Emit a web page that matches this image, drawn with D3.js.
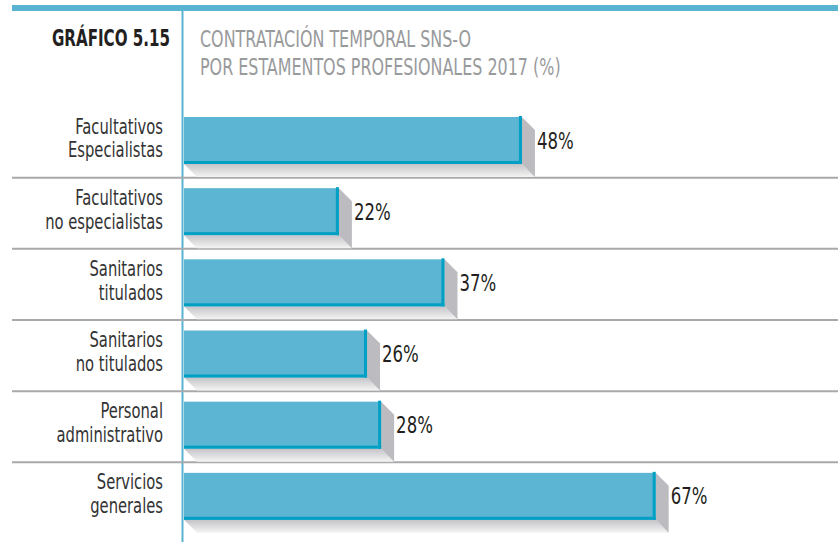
<!DOCTYPE html>
<html>
<head>
<meta charset="utf-8">
<script src="https://cdn.jsdelivr.net/npm/d3@7"></script>
<style>
  body { margin: 0; background: #fff; }
  text { font-family: "DejaVu Sans Condensed", "DejaVu Sans", sans-serif; font-stretch: condensed; }
</style>
</head>
<body>
<svg width="838" height="542"></svg>
<script>
var categories = [
    ['Facultativos', 'Especialistas'],
    ['Facultativos', 'no especialistas'],
    ['Sanitarios', 'titulados'],
    ['Sanitarios', 'no titulados'],
    ['Personal', 'administrativo'],
    ['Servicios', 'generales']
];
var values = [48, 22, 37, 26, 28, 67];
var titleLines = ['CONTRATACIÓN TEMPORAL SNS-O', 'POR ESTAMENTOS PROFESIONALES 2017 (%)'];

var svg = d3.select('svg');

var x = d3.scaleLinear().domain([0, 100]).range([184, 888]);
var y = d3.scaleBand().domain(d3.range(categories.length)).range([106, 533]);

var defs = svg.append('defs');
var grad = defs.append('linearGradient').attr('id', 'shade')
    .attr('x1', 0).attr('y1', 0).attr('x2', 0).attr('y2', 1);
grad.append('stop').attr('offset', '0%').attr('stop-color', '#c4c4c8');
grad.append('stop').attr('offset', '100%').attr('stop-color', '#f4f4f4');

// header
svg.append('rect').attr('x', 12).attr('y', 5).attr('width', 826).attr('height', 6).attr('fill', '#5ab4d1');
svg.append('line').attr('x1', 182.5).attr('x2', 182.5).attr('y1', 11).attr('y2', 542)
    .attr('stroke', '#5ab4d1').attr('stroke-width', 2);

svg.append('g').attr('transform', 'translate(170,46) scale(0.73,1)')
    .append('text').attr('text-anchor', 'end')
    .attr('font-size', 23).attr('font-weight', 'bold').attr('fill', '#231f20')
    .text('GRÁFICO 5.15');

svg.selectAll('.title').data(titleLines).enter()
    .append('g').attr('class', 'title')
    .attr('transform', function(d, i){ return 'translate(200,' + (47 + i * 28) + ') scale(0.77,1)' })
    .append('text')
    .attr('font-size', 23).attr('fill', '#999a9c')
    .text(function(d){ return d });

// separators
svg.selectAll('.sep').data(d3.range(1, categories.length)).enter()
    .append('line').attr('class', 'sep')
    .attr('x1', 12).attr('x2', 838)
    .attr('y1', function(d){ return y(d) + 0.5 })
    .attr('y2', function(d){ return y(d) + 0.5 })
    .attr('stroke', '#a9a9ab').attr('stroke-width', 2);

var rows = svg.selectAll('.row').data(values).enter()
    .append('g').attr('class', 'row')
    .attr('transform', function(d, i){ return 'translate(0,' + (y(i) + 11) + ')' });

var h = 47, off = 13;

// shadow
rows.append('path')
    .attr('d', function(d){
        var xr = x(d);
        return 'M' + x(0) + ',' + h + 'L' + (x(0) + off) + ',' + (h + off) + 'L' + (xr + off) + ',' + (h + off) + 'L' + xr + ',' + h + 'Z';
    })
    .attr('fill', 'url(#shade)');
rows.append('path')
    .attr('d', function(d){
        var xr = x(d);
        return 'M' + xr + ',0L' + (xr + off) + ',' + off + 'L' + (xr + off) + ',' + (h + off) + 'L' + xr + ',' + h + 'Z';
    })
    .attr('fill', '#bcbcc0');

rows.append('rect')
    .attr('x', x(0)).attr('y', 0)
    .attr('width', function(d){ return x(d) - x(0) })
    .attr('height', h)
    .attr('fill', '#5cb5d2');
rows.append('rect')
    .attr('x', x(0)).attr('y', h - 3)
    .attr('width', function(d){ return x(d) - x(0) })
    .attr('height', 3)
    .attr('fill', '#009fc4');
rows.append('rect')
    .attr('x', function(d){ return x(d) - 3 }).attr('y', -1)
    .attr('width', 3).attr('height', h + 1)
    .attr('fill', '#009fc4');

rows.append('g')
    .attr('transform', function(d){ return 'translate(' + (x(d) + 15) + ',' + (h / 2 + 8) + ') scale(0.8,1)' })
    .append('text')
    .attr('font-size', 23).attr('fill', '#231f20')
    .text(function(d){ return d + '%' });

// category labels
var labels = svg.selectAll('.cat').data(categories).enter()
    .append('g').attr('class', 'cat')
    .attr('transform', function(d, i){ return 'translate(163,' + (y(i) + 11 + h / 2 - 7) + ') scale(0.8,1)' })
    .append('text')
    .attr('text-anchor', 'end').attr('font-size', 20.5).attr('fill', '#333');
labels.selectAll('tspan').data(function(d){ return d }).enter()
    .append('tspan')
    .attr('x', 0)
    .attr('y', function(d, j){ return j * 24 })
    .text(function(d){ return d });
</script>
</body>
</html>
